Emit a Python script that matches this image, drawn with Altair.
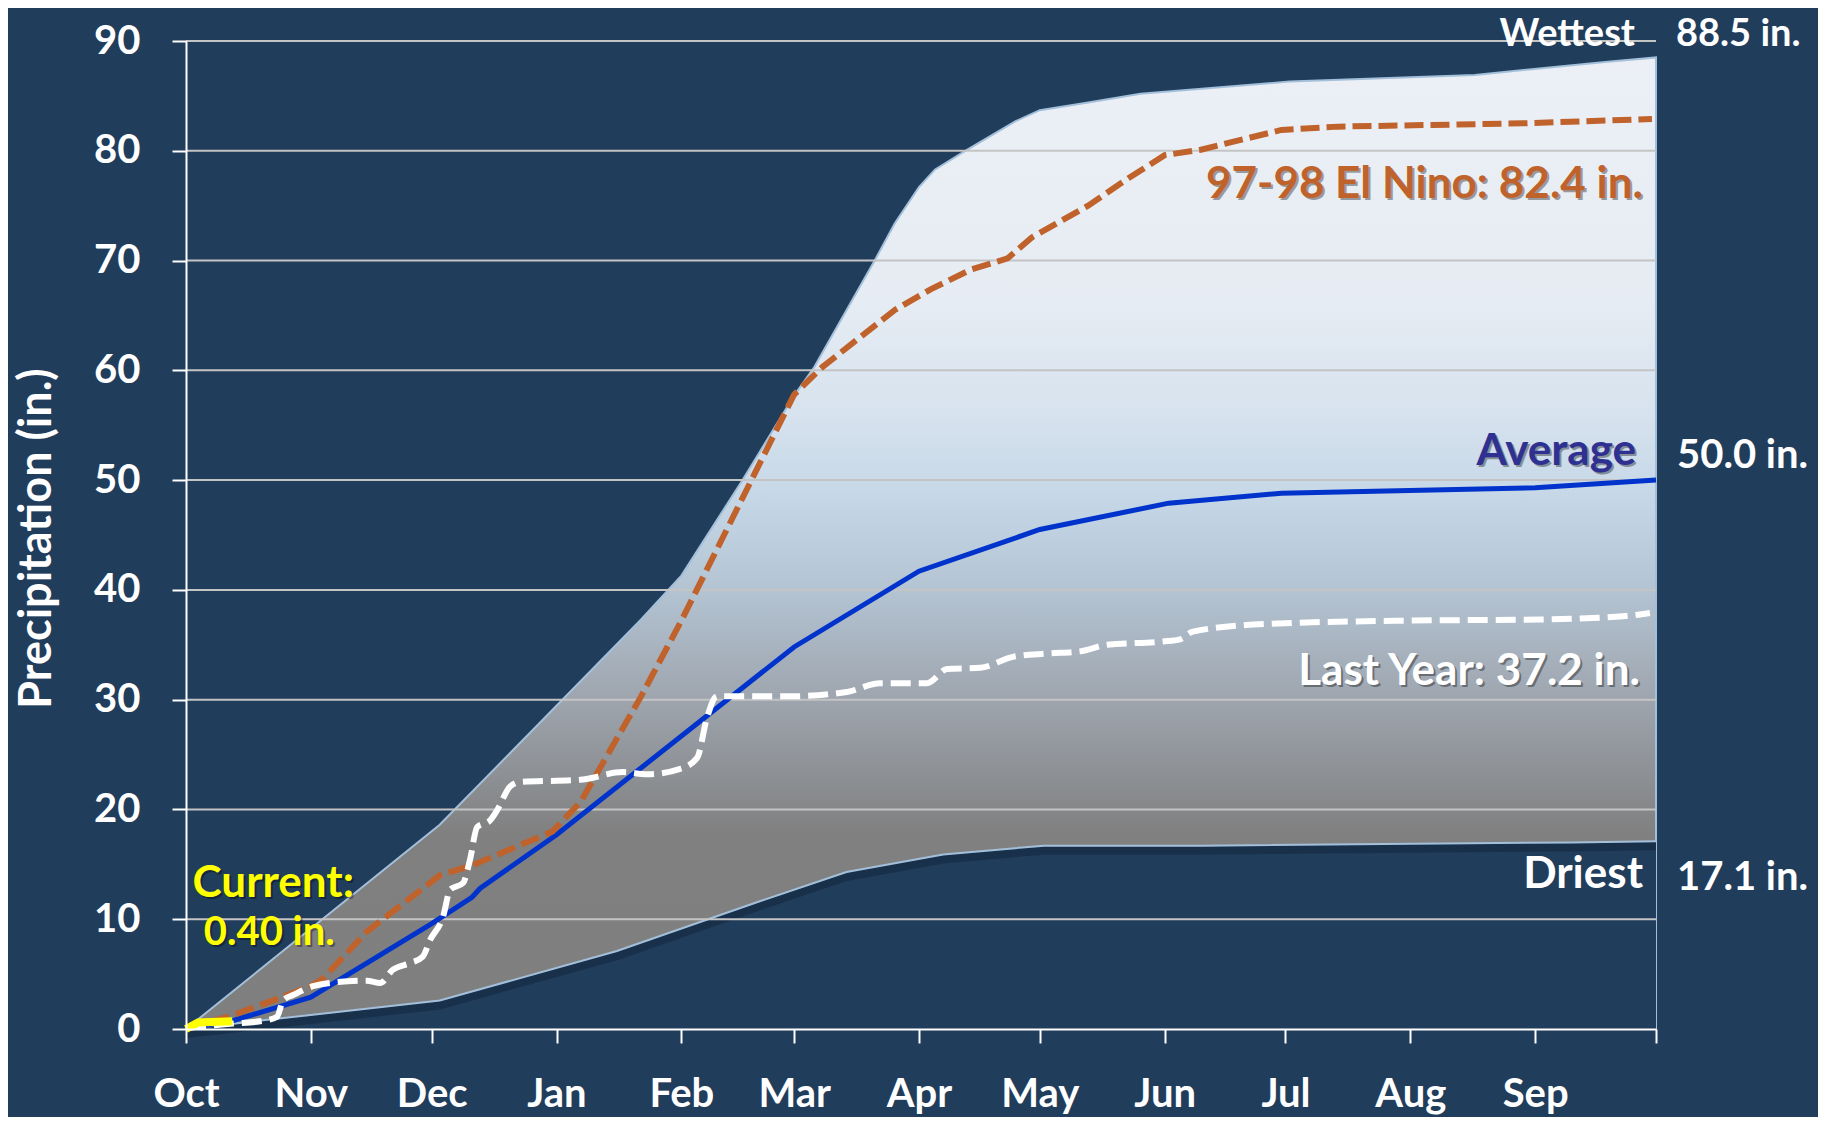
import altair as alt
import pandas as pd

# ---------------- data ----------------
# x = day of water year (0 = Oct 1, 365 = next Oct 1), y = cumulative precipitation (in.)
wet_day = [0, 63, 113, 123, 138, 151, 156, 171, 176, 182, 186, 194, 206, 212, 224, 237, 274, 320, 336, 353, 365]
wet_val = [0, 18.6, 37.3, 41.3, 49.9, 57.7, 60.3, 70.0, 73.4, 76.7, 78.3, 80.1, 82.7, 83.7, 84.4, 85.2, 86.3, 86.9, 87.5, 88.1, 88.5]

dry_day = [0, 63, 107, 143, 164, 188, 213, 252, 344, 365]
dry_val = [0, 2.6, 7.1, 11.7, 14.3, 15.9, 16.7, 16.7, 17.0, 17.1]

avg_day = [0, 12, 31, 61, 71, 73, 92, 151, 182, 212, 244, 272, 335, 365]
avg_val = [0, 0.8, 2.9, 9.6, 12.0, 12.8, 17.7, 34.8, 41.7, 45.5, 47.9, 48.8, 49.3, 50.0]

nino_day = [0, 12, 31, 34, 45, 63, 71, 91, 98, 113, 123, 151, 158, 176, 185, 195, 204, 210, 224, 234, 243, 252, 272, 286, 332, 364]
nino_val = [0, 1.3, 3.9, 4.6, 8.9, 14.0, 14.9, 18.0, 20.7, 30.3, 37.2, 57.8, 60.3, 65.5, 67.4, 69.2, 70.2, 72.1, 75.0, 77.5, 79.6, 80.1, 81.9, 82.2, 82.5, 82.9]

last_day = [0, 11.7, 18.4, 22.6, 24.1, 26.6, 31.5, 35.8, 44.9, 48.2, 51.4, 55.6, 58.8, 60.6, 63.8, 65.6,
            68.8, 70.5, 72.3, 75.5, 77.2, 80.5, 82.9, 97.8, 108.5, 114.5, 122.7, 126.9, 129.4, 131.8,
            149.2, 164.1, 172.3, 184.0, 189.0, 197.2, 205.3, 213.8, 222.0, 228.7, 242.6, 246.8, 250.0,
            268.4, 303.2, 336.2, 356.8, 363.5]
last_val = [0.1, 0.5, 0.7, 1.1, 2.6, 3.1, 3.9, 4.2, 4.4, 4.2, 5.4, 6.0, 6.6, 8.1, 10.2, 12.7,
            13.3, 15.4, 18.4, 19.0, 19.9, 22.1, 22.5, 22.7, 23.4, 23.2, 23.7, 24.7, 28.4, 30.3,
            30.3, 30.7, 31.5, 31.5, 32.8, 32.9, 33.9, 34.2, 34.4, 35.0, 35.3, 35.5, 36.2,
            36.9, 37.2, 37.3, 37.6, 37.9]

cur_day = [0, 3, 11.5]
cur_val = [0, 0.6, 0.7]

month_days = [0, 31, 61, 92, 123, 151, 182, 212, 243, 273, 304, 335, 365]
month_labels = ["Oct", "Nov", "Dec", "Jan", "Feb", "Mar", "Apr", "May", "Jun", "Jul", "Aug", "Sep", ""]
y_ticks = [0, 10, 20, 30, 40, 50, 60, 70, 80, 90]
grid_vals = [10, 20, 30, 40, 50, 60, 70, 80, 90]

label_nino = "97-98 El Nino: 82.4 in."
label_last = "Last Year: 37.2 in."
label_current = ["Current:", "0.40 in."]

# ---------------- styling ----------------
BG = "#213d5c"
FONT = "Lato, 'Open Sans', sans-serif"
EDGE = "#a3bfd9"

W, H = 1470, 988

x_scale = alt.Scale(domain=[0, 365], nice=False, zero=False)
y_scale = alt.Scale(domain=[0, 90], nice=False)


def df(days, vals):
    return pd.DataFrame({"day": days, "val": vals})


x_enc = alt.X("day:Q", scale=x_scale,
              axis=alt.Axis(values=month_days,
                            labelExpr="%s[indexof(%s, datum.value)]" % (
                                "[" + ",".join("'%s'" % m for m in month_labels) + "]",
                                "[" + ",".join(str(d) for d in month_days) + "]"),
                            labelFont=FONT, labelFontSize=40, labelFontWeight="bold",
                            labelColor="white", labelPadding=31, labelFlush=False,
                            labelOverlap=False, tickSize=14, tickWidth=2, tickColor="white",
                            domainColor="white", domainWidth=2, grid=False, title=None,
                            zindex=1))
y_enc = alt.Y("val:Q", scale=y_scale,
              axis=alt.Axis(values=y_ticks, format="d",
                            labelFont=FONT, labelFontSize=40, labelFontWeight="bold",
                            labelColor="white", labelPadding=32, labelFlush=False,
                            tickSize=14, tickWidth=2, tickColor="white",
                            domainColor="white", domainWidth=2, grid=False,
                            title="Precipitation (in.)", titleFont=FONT, titleFontSize=45,
                            titleFontWeight="bold", titleColor="white",
                            titleX=-150, titleY=497, titleAngle=270,
                            titleBaseline="middle", titleAlign="center", zindex=1))

gradient = alt.Gradient(
    gradient="linear", x1=0, x2=0, y1=1, y2=0,
    stops=[
        alt.GradientStop(color="#7f7f7f", offset=0),
        alt.GradientStop(color="#808080", offset=0.2),
        alt.GradientStop(color="#9ea5ae", offset=0.34),
        alt.GradientStop(color="#b3c3d2", offset=0.45),
        alt.GradientStop(color="#c4d6e6", offset=0.54),
        alt.GradientStop(color="#d6e2ee", offset=0.63),
        alt.GradientStop(color="#e6ecf3", offset=0.75),
        alt.GradientStop(color="#ecf0f6", offset=1),
    ])

wet_area = alt.Chart(df(wet_day, wet_val)).mark_area(
    color=gradient, stroke=EDGE, strokeWidth=2).encode(x=x_enc, y=y_enc)

dry_mask = alt.Chart(df(dry_day, dry_val)).mark_area(color=BG).encode(x="day:Q", y="val:Q")
dry_shadow = alt.Chart(df(dry_day, dry_val)).mark_line(
    color="#0b1a2c", strokeWidth=8, opacity=0.35, yOffset=5).encode(x="day:Q", y="val:Q")
dry_line = alt.Chart(df(dry_day, dry_val)).mark_line(color=EDGE, strokeWidth=2).encode(x="day:Q", y="val:Q")

grid = alt.Chart(pd.DataFrame({"val": grid_vals})).mark_rule(
    color="#c4c4c4", strokeWidth=2).encode(y="val:Q")

avg_line = alt.Chart(df(avg_day, avg_val)).mark_line(
    color="#0033cc", strokeWidth=5).encode(x="day:Q", y="val:Q")
nino_line = alt.Chart(df(nino_day, nino_val)).mark_line(
    color="#c0622b", strokeWidth=6, strokeDash=[19, 7]).encode(x="day:Q", y="val:Q")
last_line = alt.Chart(df(last_day, last_val)).mark_line(
    color="white", strokeWidth=6, strokeDash=[20, 8], interpolate="monotone").encode(x="day:Q", y="val:Q")
cur_line = alt.Chart(df(cur_day, cur_val)).mark_line(
    color="#ffff00", strokeWidth=8).encode(x="day:Q", y="val:Q")


def end_label(text, day, val, color, align, dx, dy, size=40, shadow=True):
    d = pd.DataFrame({"day": [day], "val": [val], "t": [text]})
    base = alt.Chart(d)
    layers = []
    if shadow:
        layers.append(base.mark_text(
            font=FONT, fontSize=size, fontWeight="bold", color="#000000", opacity=0.35,
            align=align, baseline="alphabetic", dx=dx + 2, dy=dy + 2
        ).encode(x="day:Q", y="val:Q", text="t:N"))
    layers.append(base.mark_text(
        font=FONT, fontSize=size, fontWeight="bold", color=color, align=align,
        baseline="alphabetic", dx=dx, dy=dy).encode(x="day:Q", y="val:Q", text="t:N"))
    return layers


labels = []
labels += end_label("Wettest", wet_day[-1], wet_val[-1], "white", "right", -21, -11, 38, False)
labels += end_label("%.1f in." % wet_val[-1], wet_day[-1], wet_val[-1], "white", "left", 20, -11, 38, False)
labels += end_label(label_nino, 365, nino_val[-1], "#c0622b", "right", -13, 79, 44)
labels += end_label("Average", avg_day[-1], avg_val[-1], "#2e3192", "right", -20, -15, 44)
labels += end_label("%.1f in." % avg_val[-1], avg_day[-1], avg_val[-1], "white", "left", 21, -12, 40, False)
labels += end_label(label_last, 365, last_val[-1], "white", "right", -16, 72, 44)
labels += end_label("Driest", dry_day[-1], dry_val[-1], "white", "right", -13, 47, 44, False)
labels += end_label("%.1f in." % dry_val[-1], dry_day[-1], dry_val[-1], "white", "left", 21, 49, 40, False)
labels += end_label(label_current[0], cur_day[-1], cur_val[-1], "#ffff00", "center", 41, -124, 44)
labels += end_label(label_current[1], cur_day[-1], cur_val[-1], "#ffff00", "center", 37, -76, 40)

chart = alt.layer(
    wet_area, dry_mask, dry_shadow, dry_line, grid, avg_line, nino_line, last_line, cur_line, *labels
).properties(
    width=W, height=H,
    background=BG,
    padding={"left": 178, "top": 33, "right": 162, "bottom": 88},
    autosize=alt.AutoSizeParams(type="none"),
).configure_view(stroke=None)

chart.save("out.html", embed_options={"renderer": "svg", "actions": False})
